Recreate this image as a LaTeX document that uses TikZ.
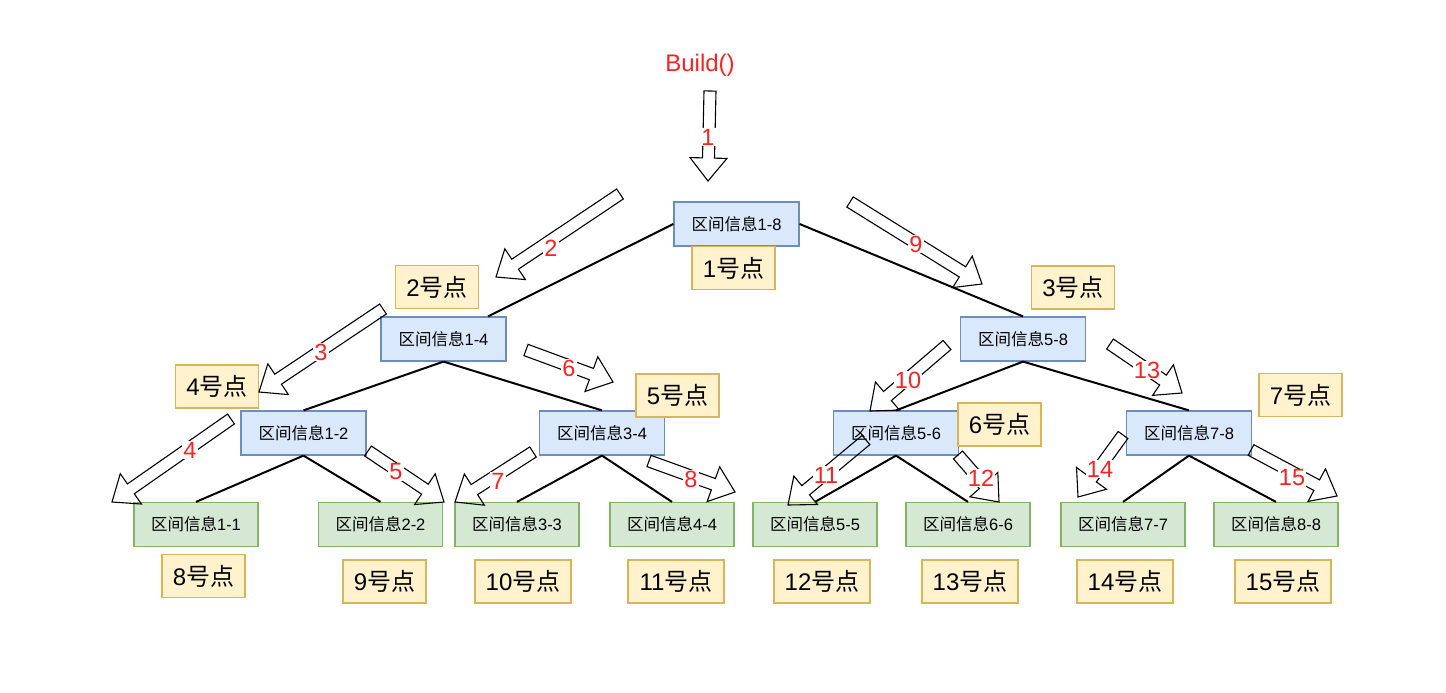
\documentclass[tikz,border=0pt]{standalone}
\usepackage{fontspec}
\setmainfont{Liberation Sans}
\newfontfamily\cjk{Noto Sans CJK SC}
\usetikzlibrary{calc}
\definecolor{bluefill}{HTML}{DAE8FC}
\definecolor{blueline}{HTML}{6C8EBF}
\definecolor{greenfill}{HTML}{D5E8D4}
\definecolor{greenline}{HTML}{82B366}
\definecolor{yelfill}{HTML}{FFF2CC}
\definecolor{yelline}{HTML}{D6B656}
\definecolor{numred}{HTML}{FF2020}
\newcommand\qj[1]{{\cjk 区间信息}#1}
\newcommand\hd[1]{#1{\cjk 号点}}
\tikzset{
  inner/.style={draw=blueline, fill=bluefill, line width=1.2pt, minimum width=125pt, minimum height=44pt, inner sep=0pt, font=\fontsize{16.5}{18}\selectfont},
  leaf/.style={draw=greenline, fill=greenfill, line width=1.2pt, minimum width=124pt, minimum height=44pt, inner sep=0pt, font=\fontsize{16.5}{18}\selectfont},
  tag/.style={draw=yelline, fill=yelfill, line width=1.2pt, minimum width=83pt, minimum height=43pt, inner sep=0pt, font=\fontsize{24}{26}\selectfont},
  tagw/.style={tag, minimum width=96pt},
  edge/.style={draw=black, line width=2pt},
  barrow/.style={draw=black, line width=1.1pt, line join=miter},
  steplabel/.style={text=numred, fill=white, inner sep=1pt, font=\fontsize{23.5}{25}\selectfont},
}
\newcommand\blockarrow[5]{%
  \coordinate (#1-t) at (#2);
  \coordinate (#1-h) at (#3);
  \coordinate (#1-n) at ($(#1-h)!23pt!(#1-t)$);
  \draw[barrow] ($(#1-t)!6pt!90:(#1-h)$) -- ($(#1-n)!6pt!90:(#1-h)$) -- ($(#1-n)!18.5pt!90:(#1-h)$) -- (#1-h) -- ($(#1-n)!18.5pt!-90:(#1-h)$) -- ($(#1-n)!6pt!-90:(#1-h)$) -- ($(#1-t)!6pt!-90:(#1-h)$) -- cycle;
  \node[steplabel] (#1-l) at (#4) {#5};
}
\begin{document}
\begin{tikzpicture}[x=1pt, y=-1pt]
\useasboundingbox (0,0) rectangle (1446,693);
% tree nodes
\node[inner] (n18) at (736.5,224) {\qj{1-8}};
\node[inner] (n14) at (443.5,339) {\qj{1-4}};
\node[inner] (n58) at (1023,339) {\qj{5-8}};
\node[inner] (n12) at (303.5,433) {\qj{1-2}};
\node[inner] (n34) at (602,433) {\qj{3-4}};
\node[inner] (n56) at (896,433) {\qj{5-6}};
\node[inner] (n78) at (1189,433) {\qj{7-8}};
\node[leaf] (n11) at (196,524.5) {\qj{1-1}};
\node[leaf] (n22) at (380.5,524.5) {\qj{2-2}};
\node[leaf] (n33) at (517,524.5) {\qj{3-3}};
\node[leaf] (n44) at (672,524.5) {\qj{4-4}};
\node[leaf] (n55) at (815,524.5) {\qj{5-5}};
\node[leaf] (n66) at (968,524.5) {\qj{6-6}};
\node[leaf] (n77) at (1123,524.5) {\qj{7-7}};
\node[leaf] (n88) at (1276,524.5) {\qj{8-8}};
% edges
\draw[edge] (n18.west) -- ([xshift=44.5pt]n14.north);
\draw[edge] (n18.east) -- (n58.north);
\draw[edge] (n14.south) -- (n12.north);
\draw[edge] (n14.south) -- (n34.north);
\draw[edge] (n58.south) -- (n56.north);
\draw[edge] (n58.south) -- (n78.north);
\draw[edge] (n12.south) -- (n11.north);
\draw[edge] (n12.south) -- (n22.north);
\draw[edge] (n34.south) -- (n33.north);
\draw[edge] (n34.south) -- (n44.north);
\draw[edge] (n56.south) -- (n55.north);
\draw[edge] (n56.south) -- (n66.north);
\draw[edge] (n78.south) -- (n77.north);
\draw[edge] (n78.south) -- (n88.north);
% number tags
\node[tag] (t1) at (733.5,268) {\hd{1}};
\node[tag] (t2) at (437,287) {\hd{2}};
\node[tag] (t3) at (1073,287.5) {\hd{3}};
\node[tag] (t4) at (217,386.5) {\hd{4}};
\node[tag] (t5) at (677.5,395.5) {\hd{5}};
\node[tag] (t6) at (999.5,424.5) {\hd{6}};
\node[tag] (t7) at (1300.5,395) {\hd{7}};
\node[tag] (t8) at (203.5,576) {\hd{8}};
\node[tag] (t9) at (384.5,581.5) {\hd{9}};
\node[tagw] (t10) at (523,581.5) {\hd{10}};
\node[tagw] (t11) at (676,581.5) {\hd{11}};
\node[tagw] (t12) at (822,581.5) {\hd{12}};
\node[tagw] (t13) at (970,581.5) {\hd{13}};
\node[tagw] (t14) at (1125,581.5) {\hd{14}};
\node[tagw] (t15) at (1283,581.5) {\hd{15}};
% title
\node[text=numred, font=\fontsize{24}{26}\selectfont] (build) at (700,65) {Build()};
% block arrows
\blockarrow{a1}{710,91}{708,181}{708,137}{1}
\blockarrow{a2}{620,194}{496,277}{551,248}{2}
\blockarrow{a3}{383,309}{259,392}{321,352}{3}
\blockarrow{a4}{231,419}{112,502}{190,450}{4}
\blockarrow{a5}{368,451}{444,502}{396,472}{5}
\blockarrow{a6}{526,350}{613,382}{569,368}{6}
\blockarrow{a7}{533,452}{455,502}{498,481}{7}
\blockarrow{a8}{649,461}{735,492}{691,479}{8}
\blockarrow{a9}{850,202}{982,284}{916,244}{9}
\blockarrow{a10}{947,345}{870,411}{908,380}{10}
\blockarrow{a11}{866,440}{788,505}{826,475}{11}
\blockarrow{a12}{958,455}{999,502}{981,478}{12}
\blockarrow{a13}{1110,344}{1182,393}{1147,370}{13}
\blockarrow{a14}{1123,435}{1078,497}{1100,469}{14}
\blockarrow{a15}{1251,450}{1337,496}{1292,478}{15}
\end{tikzpicture}
\end{document}
